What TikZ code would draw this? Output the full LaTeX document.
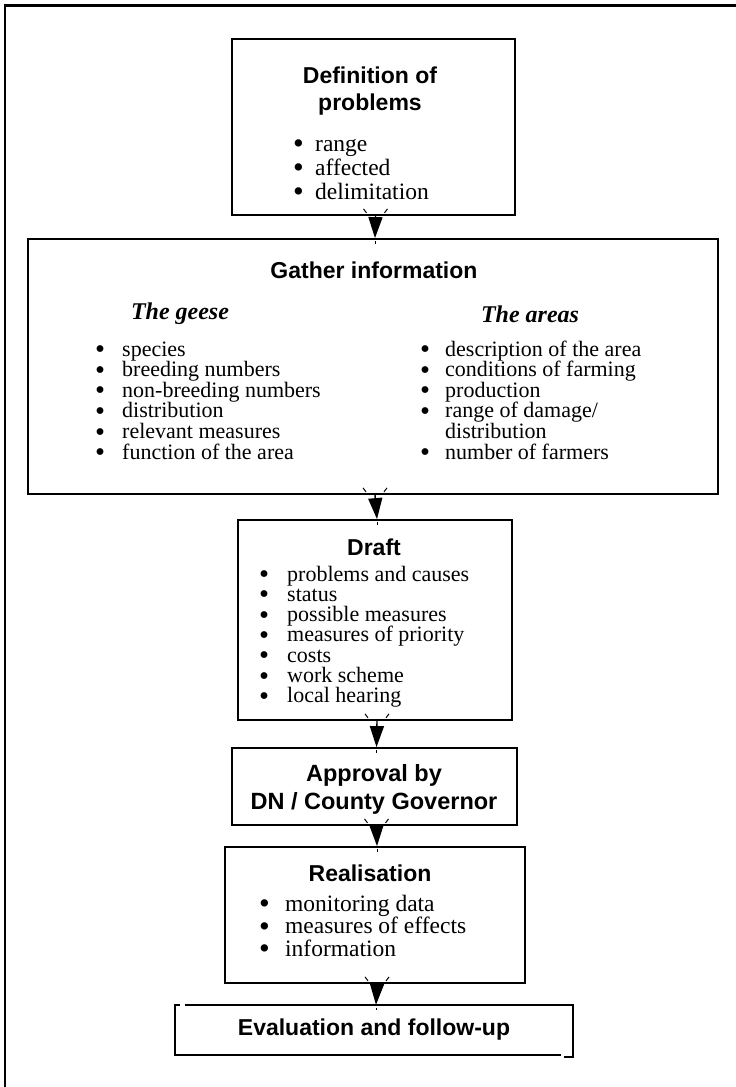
\documentclass[tikz,border=0pt]{standalone}
\usepackage{fontspec}
\setmainfont{Liberation Serif}
\newfontfamily\hsf{Liberation Sans}
\usetikzlibrary{arrows.meta}
\newcommand\bigbul{\smash{\raisebox{-2.6pt}{\scalebox{1.3}{\textbullet}}}}
\newcommand\bulrow[2]{\makebox[#1][l]{\bigbul}#2}
\begin{document}
\begin{tikzpicture}[x=1pt,y=-1pt,
  box/.style={draw, line width=1.8pt, inner sep=0pt},
  head/.style={font=\hsf\bfseries\fontsize{23}{27}\selectfont, align=center, inner sep=0pt},
  sub/.style={font=\bfseries\itshape\fontsize{24}{26}\selectfont, inner sep=0pt},
  itm/.style={font=\fontsize{23.5}{24}\selectfont, anchor=base west, inner sep=0pt, text height=12pt, text depth=3pt},
  itms/.style={itm, font=\fontsize{22}{22}\selectfont},
  arr/.style={line width=1.4pt, -{Triangle[width=14pt,length=21pt]}},
  tick/.style={line width=1pt}]
\useasboundingbox (0,0) rectangle (736,1087);
% outer frame
\draw[line width=3pt] (4,5) -- (736,5);
\draw[line width=2pt] (5,5) -- (5,1087);
% boxes
\node[box, minimum width=283pt, minimum height=176pt] (b1) at (373.5,127) {};
\node[box, minimum width=690pt, minimum height=255pt] (b2) at (373,366.5) {};
\node[box, minimum width=274pt, minimum height=200pt] (b3) at (375,620) {};
\node[box, minimum width=285pt, minimum height=77pt] (b4) at (374.5,786.5) {};
\node[box, minimum width=300pt, minimum height=136pt] (b5) at (375,915) {};
\node[minimum width=398pt, minimum height=50pt, inner sep=0pt] (b6) at (374,1030) {};
\draw[line width=1.8pt] ([shift={(5,0)}]b6.north west) -- (b6.north west) -- (b6.south west) -- ([shift={(-12,0)}]b6.south east);
\draw[line width=1.8pt] ([shift={(10,0)}]b6.north west) -- (b6.north east) -- ([shift={(0,2)}]b6.south east) -- ([shift={(-9,2)}]b6.south east);
% box 1
\node[head] (t1) at (370,91.5) {Definition of\\problems};
\foreach \t [count=\i from 0] in {range,affected,delimitation}{
  \node[itm] (l1r\i) at (293,{151+24*\i}) {\bulrow{22pt}{\t}};
}
% box 2
\node[head] (t2) at (374,270) {Gather information};
\node[sub] (s2a) at (180,314) {The geese};
\node[sub] (s2b) at (530,314) {The areas};
\foreach \t [count=\i from 0] in {species,breeding numbers,non-breeding numbers,distribution,relevant measures,function of the area}{
  \node[itms] (l2a\i) at (95,{356+20.6*\i}) {\bulrow{27pt}{\t}};
}
\foreach \t [count=\i from 0] in {description of the area,conditions of farming,production,{range of damage/},number of farmers}{
  \pgfmathtruncatemacro\k{\i>3 ? \i+1 : \i}
  \node[itms] (l2b\i) at (420,{356+20.6*\k}) {\bulrow{25pt}{\t}};
}
\node[itms] (l2bc) at (445,{356+20.6*4}) {distribution};
% box 3
\node[head] (t3) at (374,547) {Draft};
\foreach \t [count=\i from 0] in {problems and causes,status,possible measures,measures of priority,costs,work scheme,local hearing}{
  \node[itms] (l3r\i) at (259,{581+20.3*\i}) {\bulrow{28pt}{\t}};
}
% box 4
\node[head, font=\hsf\bfseries\fontsize{23.5}{28}\selectfont] (t4) at (374,789) {Approval by\\DN / County Governor};
% box 5
\node[head] (t5) at (370,873) {Realisation};
\foreach \t [count=\i from 0] in {monitoring data,measures of effects,information}{
  \node[itm] (l5r\i) at (259,{911+22.5*\i}) {\bulrow{26pt}{\t}};
}
% box 6
\node[head] (t6) at (374,1030) {Evaluation and follow-up};
% arrows
\foreach \a/\b in {b1/b2,b2/b3,b3/b4,b4/b5,b5/b6}{
  \draw[arr] ([xshift=2pt]\a.south) -- ([xshift=2pt]\b.north);
  \draw[tick] ([shift={(-10,-7)}]\a.south) -- ++(3,4);
  \draw[tick] ([shift={(14,-7)}]\a.south) -- ++(-3,4);
  \draw[tick] ([shift={(2,3)}]\b.north) -- ++(0,2.5);
}
\end{tikzpicture}
\end{document}
